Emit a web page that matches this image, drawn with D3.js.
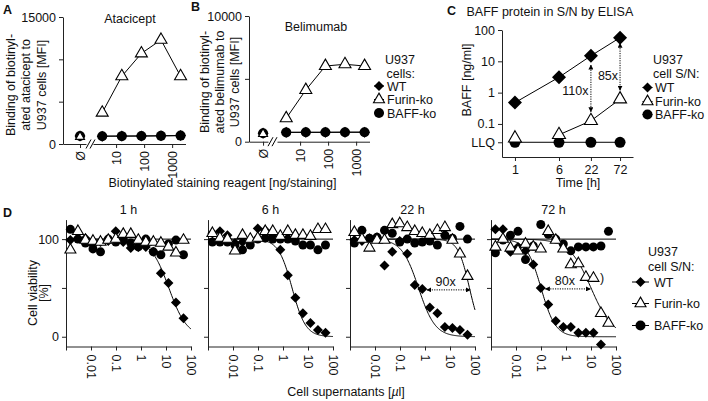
<!DOCTYPE html>
<html><head><meta charset="utf-8">
<script src="https://cdn.jsdelivr.net/npm/d3@7"></script>
<style>
body{margin:0;background:#fff}
text{font-family:"Liberation Sans",Arial,Helvetica,sans-serif;fill:#111}
</style>
</head><body>
<svg id="c" width="708" height="401" xmlns="http://www.w3.org/2000/svg"></svg>
<script>
// ================= DATA =================
// Panels A/B: binding vs biotinylated staining reagent [ng/staining]
const stainConc = [3.2, 16, 80, 400, 2000];
const atacWT = [930, 940, 950, 970, 1000];
const atacFurin = [3700, 8000, 10700, 12300, 8000];
const atacBAFF = [920, 930, 940, 960, 990];
const atacNone = [950, 850, 950];          // Ø: WT, Furin-ko, BAFF-ko
const beliWT = [750, 750, 750, 760, 760];
const beliFurin = [1860, 4110, 6020, 6160, 6020];
const beliBAFF = [740, 745, 745, 750, 750];
const beliNone = [670, 620, 670];           // Ø: WT, Furin-ko, BAFF-ko
const atacYTicks = [0, 5000, 10000, 15000];
const beliYTicks = [0, 5000, 10000];
const stainTicks = [10, 100, 1000];

// Panel C: BAFF ELISA [ng/ml]
const timesH = [1, 6, 22, 72];
const elisaWT = [0.48, 3.1, 15, 57];
const elisaFurin = [0.035, 0.045, 0.126, 0.62];
const elisaBAFF = [0.026, 0.026, 0.026, 0.026];
const LLQ = 0.026;
const elisaYTicks = [LLQ, 0.1, 1, 10, 100];
const elisaArrows = [{t: 22, lo: 0.245, hi: 7.6, label: "110x"}, {t: 72, lo: 1.2, hi: 37.6, label: "85x"}];

// Panel D: cell viability [%] vs cell supernatant [µl]
const panelDTimes = ["1 h", "6 h", "22 h", "72 h"];
const supConc = [0.0015, 0.003, 0.006, 0.012, 0.024, 0.049, 0.098, 0.195, 0.39, 0.78, 1.56, 3.125, 6.25, 12.5, 25, 50];
const supTicks = [0.001, 0.01, 0.1, 1, 10, 100];
const viaWT = [
  [99, 101, 101, 94, 97, 98, 108, 97, 91, 92, 92, 87, 65, 55, 35, 19],
  [106, 108, 104, 96, 97, 98, 111, 109, 103, 89, 63, 40, 24, 14, 7, 4],
  [99, 98, 101, 102, 73, 87, 98, 85, 53, 49, 30, 24, 10, 9, 7, 2],
  [110, 110, 87, 92, 88, 74, 50, 33, 16, 10, 10, 4, 4, 4, -8, null]
];
const viaFurin = [
  [89, 108, 99, 98, 97, 99, 100, 105, 105, 99, 97, 97, 96, 92, 86, 99],
  [106, 101, 100, 88, 104, 100, 101, 108, 108, 103, 108, 104, 104, 103, 110, 110],
  [107, 100, 91, 99, 99, 115, 116, 112, 108, 106, 104, 109, 112, 99, 85, 62],
  [92, 100, 91, 88, 95, 92, 90, 108, 99, 90, 74, 75, 61, 60, 24, 14]
];
const viaBAFF = [
  [110, 100, 96, 90, 87, 100, 97, 100, 96, 92, 100, 87, 84, 95, 99, 84],
  [97, 97, 97, 94, 89, 94, 100, 101, 100, 100, 100, 98, 94, 94, 89, 94],
  [96, 109, 101, 102, 109, 106, 97, 100, 96, 97, 98, 94, 104, 101, 113, 100],
  [86, 99, 104, 108, 79, 93, 115, 105, 100, 95, 88, 92, 92, 92, 93, 108]
];
// fitted sigmoid parameters [IC50 (µl), Hill slope]
const fitWT = [[13, 1.2], [2.3, 1.6], [0.55, 1.3], [0.1, 1.5]];
const fitFurin = [null, null, [60, 1.9], [10, 1.0]];
const foldArrows = [null, null, {lo: 1.2, hi: 65, v: 48, label: "90x"}, {lo: 0.15, hi: 9.5, v: 49, label: "80x"}];

const legendLabels = ["WT", "Furin-ko", "BAFF-ko"];
const legendTypes = ["WT", "Furin", "BAFF"];

// ================= DRAWING =================
const svg = d3.select("#c");
const FS = 12.5;
const FONT = '"Liberation Sans",Arial,Helvetica,sans-serif';
const AX = "#222";

const defs = svg.append("defs");
defs.append("marker").attr("id", "ah").attr("viewBox", "0 0 10 10").attr("refX", 9).attr("refY", 5)
  .attr("markerWidth", 5).attr("markerHeight", 5).attr("orient", "auto-start-reverse")
  .append("path").attr("d", "M0,0L10,5L0,10z").attr("fill", "#000");

function sym(g, type, x, y, w) {
  if (type === "WT") {
    const side = w / Math.SQRT2;
    g.append("path").attr("d", d3.symbol(d3.symbolSquare, side * side)())
      .attr("transform", `translate(${x},${y}) rotate(45)`).attr("fill", "#000");
  } else if (type === "Furin") {
    g.append("path").attr("d", d3.symbol(d3.symbolTriangle, w * w * Math.sqrt(3) / 4)())
      .attr("transform", `translate(${x},${y})`).attr("fill", "#fff")
      .attr("stroke", "#000").attr("stroke-width", 1.1);
  } else {
    g.append("circle").attr("cx", x).attr("cy", y).attr("r", w / 2).attr("fill", "#000");
  }
}
function txt(g, x, y, s, o = {}) {
  const t = g.append("text").attr("x", x).attr("y", y).attr("font-size", o.fs || FS).text(s);
  if (o.anchor) t.attr("text-anchor", o.anchor);
  if (o.bold) t.attr("font-weight", "bold");
  if (o.rot) t.attr("transform", `rotate(${o.rot},${x},${y})`);
  if (o.dy) t.attr("dy", o.dy);
  return t;
}
function styleAxis(g) {
  g.attr("font-family", FONT).attr("font-size", FS);
  g.select(".domain").attr("stroke", AX).attr("stroke-width", 1);
  g.selectAll(".tick line").attr("stroke", AX);
  g.selectAll(".tick text").attr("fill", "#111");
}
function legend(g, x, ys, mw, textX, fs) {
  legendTypes.forEach((t, i) => {
    g.append("line").attr("x1", x - mw).attr("x2", x + mw).attr("y1", ys[i]).attr("y2", ys[i])
      .attr("stroke", "#000").attr("stroke-width", 1);
    sym(g, t, x, ys[i], t === "Furin" ? 11 : 10);
    txt(g, textX, ys[i] + 4.5, legendLabels[i], {fs: fs});
  });
}

// ---------- Panels A and B ----------
function panelAB(cfg) {
  const g = svg.append("g");
  const y = d3.scaleLinear().domain([0, cfg.ymax]).range([cfg.y0, cfg.y1]);
  const x = d3.scaleLog().domain([1.5, 3000]).range([cfg.xs, cfg.xs + 92.5]);
  const xn = d3.scalePoint().domain(["Ø"]).range([cfg.ax, cfg.seg1End]).padding(0.5).align(0.74);

  const ya = g.append("g").attr("transform", `translate(${cfg.ax},0)`)
    .call(d3.axisLeft(y).tickValues(cfg.yticks).tickSize(4).tickSizeOuter(0)
      .tickFormat(d => (d === 0 || d === cfg.ymax) ? String(d) : ""));
  styleAxis(ya);

  const xa = g.append("g").attr("transform", `translate(0,${cfg.y0})`)
    .call(d3.axisBottom(x).tickValues(stainTicks).tickFormat(d3.format("~g")).tickSize(4).tickSizeOuter(0));
  styleAxis(xa);
  xa.selectAll(".tick text").attr("transform", "rotate(-90)").attr("text-anchor", "end")
    .attr("x", -7).attr("y", 0).attr("dy", "0.35em");

  const xna = g.append("g").attr("transform", `translate(0,${cfg.y0})`)
    .call(d3.axisBottom(xn).tickSize(4).tickSizeOuter(0));
  styleAxis(xna);
  xna.selectAll(".tick text").attr("transform", "rotate(-90)").attr("text-anchor", "end")
    .attr("x", -7).attr("y", 0).attr("dy", "0.35em");

  // axis break slashes
  [cfg.seg1End + 2.5, cfg.seg1End + 6.5].forEach(sx => {
    g.append("line").attr("x1", sx - 2.5).attr("x2", sx + 2.5).attr("y1", cfg.y0 + 4.5).attr("y2", cfg.y0 - 4.5)
      .attr("stroke", "#000").attr("stroke-width", 1);
  });

  const line = d3.line().x(d => x(d[0])).y(d => y(d[1]));
  [cfg.wt, cfg.baff, cfg.furin].forEach(arr => {
    g.append("path").attr("d", line(stainConc.map((c, i) => [c, arr[i]])))
      .attr("fill", "none").attr("stroke", "#000").attr("stroke-width", 1);
  });
  stainConc.forEach((c, i) => sym(g, "Furin", x(c), y(cfg.furin[i]), 12));
  stainConc.forEach((c, i) => sym(g, "WT", x(c), y(cfg.wt[i]), 11));
  stainConc.forEach((c, i) => sym(g, "BAFF", x(c), y(cfg.baff[i]), 10));
  // Ø (no staining reagent)
  sym(g, "WT", xn("Ø"), y(cfg.none[0]), 11);
  sym(g, "BAFF", xn("Ø"), y(cfg.none[2]), 10);
  sym(g, "Furin", xn("Ø"), y(cfg.none[1]), 9);

  txt(g, cfg.titleX, cfg.titleY, cfg.title, {anchor: "middle"});
  cfg.ylab.forEach((s, i) => txt(g, cfg.ylabX[i], cfg.ylabY, s, {anchor: "middle", rot: -90, dy: "0.35em"}));
  return g;
}

panelAB({ax: 63, seg1End: 86, xs: 93, y0: 144, y1: 17, ymax: 15000, yticks: atacYTicks,
  wt: atacWT, furin: atacFurin, baff: atacBAFF, none: atacNone,
  title: "Atacicept", titleX: 130, titleY: 23,
  ylab: ["Binding of biotinyl-", "ated atacicept to", "U937 cells [MFI]"], ylabX: [10.5, 26, 41.5], ylabY: 85});
panelAB({ax: 249, seg1End: 268, xs: 277, y0: 141.7, y1: 16, ymax: 10000, yticks: beliYTicks,
  wt: beliWT, furin: beliFurin, baff: beliBAFF, none: beliNone,
  title: "Belimumab", titleX: 316, titleY: 31,
  ylab: ["Binding of biotinyl-", "ated belimumab to", "U937 cells [MFI]"], ylabX: [205, 220, 235], ylabY: 82});

txt(svg, 222.5, 186.5, "Biotinylated staining reagent [ng/staining]", {anchor: "middle"});
txt(svg, 3, 13.5, "A", {bold: true, fs: 12.5});
txt(svg, 191, 11, "B", {bold: true, fs: 12.5});

// legend B
{
  const g = svg.append("g");
  txt(g, 385, 64, "U937");
  txt(g, 386.5, 77.5, "cells:");
  legend(g, 379, [86, 99.5, 113], 5, 387, FS);
}

// ---------- Panel C ----------
{
  const g = svg.append("g");
  const y = d3.scaleLog().domain([0.0088, 100]).range([157, 30]);
  const x = d3.scaleLog().domain([0.59, 122]).range([502, 633]);
  const ya = g.append("g").attr("transform", "translate(502,0)")
    .call(d3.axisLeft(y).tickValues(elisaYTicks).tickSize(4).tickSizeOuter(0)
      .tickFormat(d => d === LLQ ? "LLQ" : d3.format("~g")(d)));
  styleAxis(ya);
  const xa = g.append("g").attr("transform", "translate(0,157)")
    .call(d3.axisBottom(x).tickValues(timesH).tickFormat(d3.format("~g")).tickSize(4).tickSizeOuter(0));
  styleAxis(xa);
  xa.selectAll(".tick text").attr("y", 8);

  const line = d3.line().x(d => x(d[0])).y(d => y(d[1]));
  const pts = arr => timesH.map((t, i) => [t, arr[i]]);
  g.append("path").attr("d", line(pts(elisaBAFF))).attr("fill", "none").attr("stroke", "#000");
  g.append("path").attr("d", line(pts(elisaWT))).attr("fill", "none").attr("stroke", "#000");
  g.append("path").attr("d", line(pts(elisaFurin).slice(1))).attr("fill", "none").attr("stroke", "#000");

  elisaArrows.forEach(a => {
    g.append("line").attr("x1", x(a.t)).attr("x2", x(a.t)).attr("y1", y(a.lo)).attr("y2", y(a.hi))
      .attr("stroke", "#000").attr("stroke-width", 1).attr("stroke-dasharray", "1.2,1.2")
      .attr("marker-start", "url(#ah)").attr("marker-end", "url(#ah)");
  });
  timesH.forEach((t, i) => sym(g, "BAFF", x(t), y(elisaBAFF[i]), 11));
  timesH.forEach((t, i) => sym(g, "Furin", x(t), y(elisaFurin[i]), 13));
  timesH.forEach((t, i) => sym(g, "WT", x(t), y(elisaWT[i]), 14));

  txt(g, x(22) - 2.5, 95, elisaArrows[0].label, {anchor: "end"});
  txt(g, x(72) - 2, 80, elisaArrows[1].label, {anchor: "end"});

  txt(g, 467, 80, "BAFF [ng/ml]", {anchor: "middle", rot: -90, dy: "0.35em"});
  txt(g, 578, 186.5, "Time [h]", {anchor: "middle"});
  txt(g, 466.5, 16, "BAFF protein in S/N by ELISA");
  txt(g, 447, 15, "C", {bold: true, fs: 12.5});

  txt(g, 653, 63.5, "U937");
  txt(g, 653, 78, "cell S/N:");
  legend(g, 647.5, [87.5, 101.5, 114.5], 5, 655, FS);
}

// ---------- Panel D ----------
{
  const g = svg.append("g");
  const y = d3.scaleLinear().domain([-10, 120]).range([346.5, 219.6]);
  const dX0 = [66, 208, 350, 491];
  const W = 125;
  panelDTimes.forEach((lab, p) => {
    const sg = g.append("g");
    const x = d3.scaleLog().domain([0.001, 100]).range([dX0[p], dX0[p] + W]);
    const ya = sg.append("g").attr("transform", `translate(${dX0[p]},0)`)
      .call(d3.axisLeft(y).tickValues([0, 50, 100]).tickSize(4).tickSizeOuter(0)
        .tickFormat(d => (p === 0 && d !== 50) ? String(d) : ""));
    styleAxis(ya);
    const xa = sg.append("g").attr("transform", "translate(0,346.5)")
      .call(d3.axisBottom(x).tickValues(supTicks).tickSize(4).tickSizeOuter(0)
        .tickFormat(d => d === 0.001 ? "" : d3.format("~g")(d)));
    styleAxis(xa);
    xa.selectAll(".tick text").attr("transform", "rotate(90)").attr("text-anchor", "start")
      .attr("x", 8).attr("y", 0).attr("dy", "0.35em");

    // reference line at 100 %
    sg.append("line").attr("x1", x(0.001)).attr("x2", x(100)).attr("y1", y(100)).attr("y2", y(100))
      .attr("stroke", "#000").attr("stroke-width", 1);
    // fitted curves
    const grid = d3.range(0, 201).map(i => Math.pow(10, -3 + 5 * i / 200));
    const curve = d3.line().x(c => x(c[0])).y(c => y(c[1]));
    const hill = (prm) => grid.map(c => [c, 100 / (1 + Math.pow(c / prm[0], prm[1]))]);
    sg.append("path").attr("d", curve(hill(fitWT[p]))).attr("fill", "none").attr("stroke", "#000").attr("stroke-width", 1);
    if (fitFurin[p]) sg.append("path").attr("d", curve(hill(fitFurin[p]))).attr("fill", "none").attr("stroke", "#000").attr("stroke-width", 1);

    const fa = foldArrows[p];
    if (fa) {
      sg.append("line").attr("x1", x(fa.lo)).attr("x2", x(fa.hi)).attr("y1", y(fa.v)).attr("y2", y(fa.v))
        .attr("stroke", "#000").attr("stroke-width", 1).attr("stroke-dasharray", "1.2,1.2")
        .attr("marker-start", "url(#ah)").attr("marker-end", "url(#ah)");
    }
    supConc.forEach((c, i) => { if (viaBAFF[p][i] != null) sym(sg, "BAFF", x(c), y(viaBAFF[p][i]), 9); });
    supConc.forEach((c, i) => { if (viaWT[p][i] != null) sym(sg, "WT", x(c), y(viaWT[p][i]), 10); });
    supConc.forEach((c, i) => { if (viaFurin[p][i] != null) sym(sg, "Furin", x(c), y(viaFurin[p][i]), 11); });
    if (fa) txt(sg, (x(fa.lo) + x(fa.hi)) / 2 - 3, y(fa.v) - 4, fa.label, {anchor: "middle"});
    if (p === 3) txt(sg, 600, 281.5, ")");

    txt(sg, dX0[p] + W / 2, 213.5, lab, {anchor: "middle"});
  });

  txt(g, 3, 217, "D", {bold: true, fs: 12.5});
  txt(g, 33, 293, "Cell viability", {anchor: "middle", rot: -90, dy: "0.35em"});
  txt(g, 44, 293, "[%]", {anchor: "middle", rot: -90, dy: "0.35em"});
  const xl = txt(g, 346, 396, "Cell supernatants [", {anchor: "middle"});
  xl.append("tspan").attr("font-style", "italic").text("µ");
  xl.append("tspan").text("l]");

  txt(g, 648, 255.5, "U937");
  txt(g, 648, 271, "cell S/N:");
  legend(g, 640.5, [282, 303.5, 325.5], 8.5, 654, FS);
}
</script>
</body></html>
